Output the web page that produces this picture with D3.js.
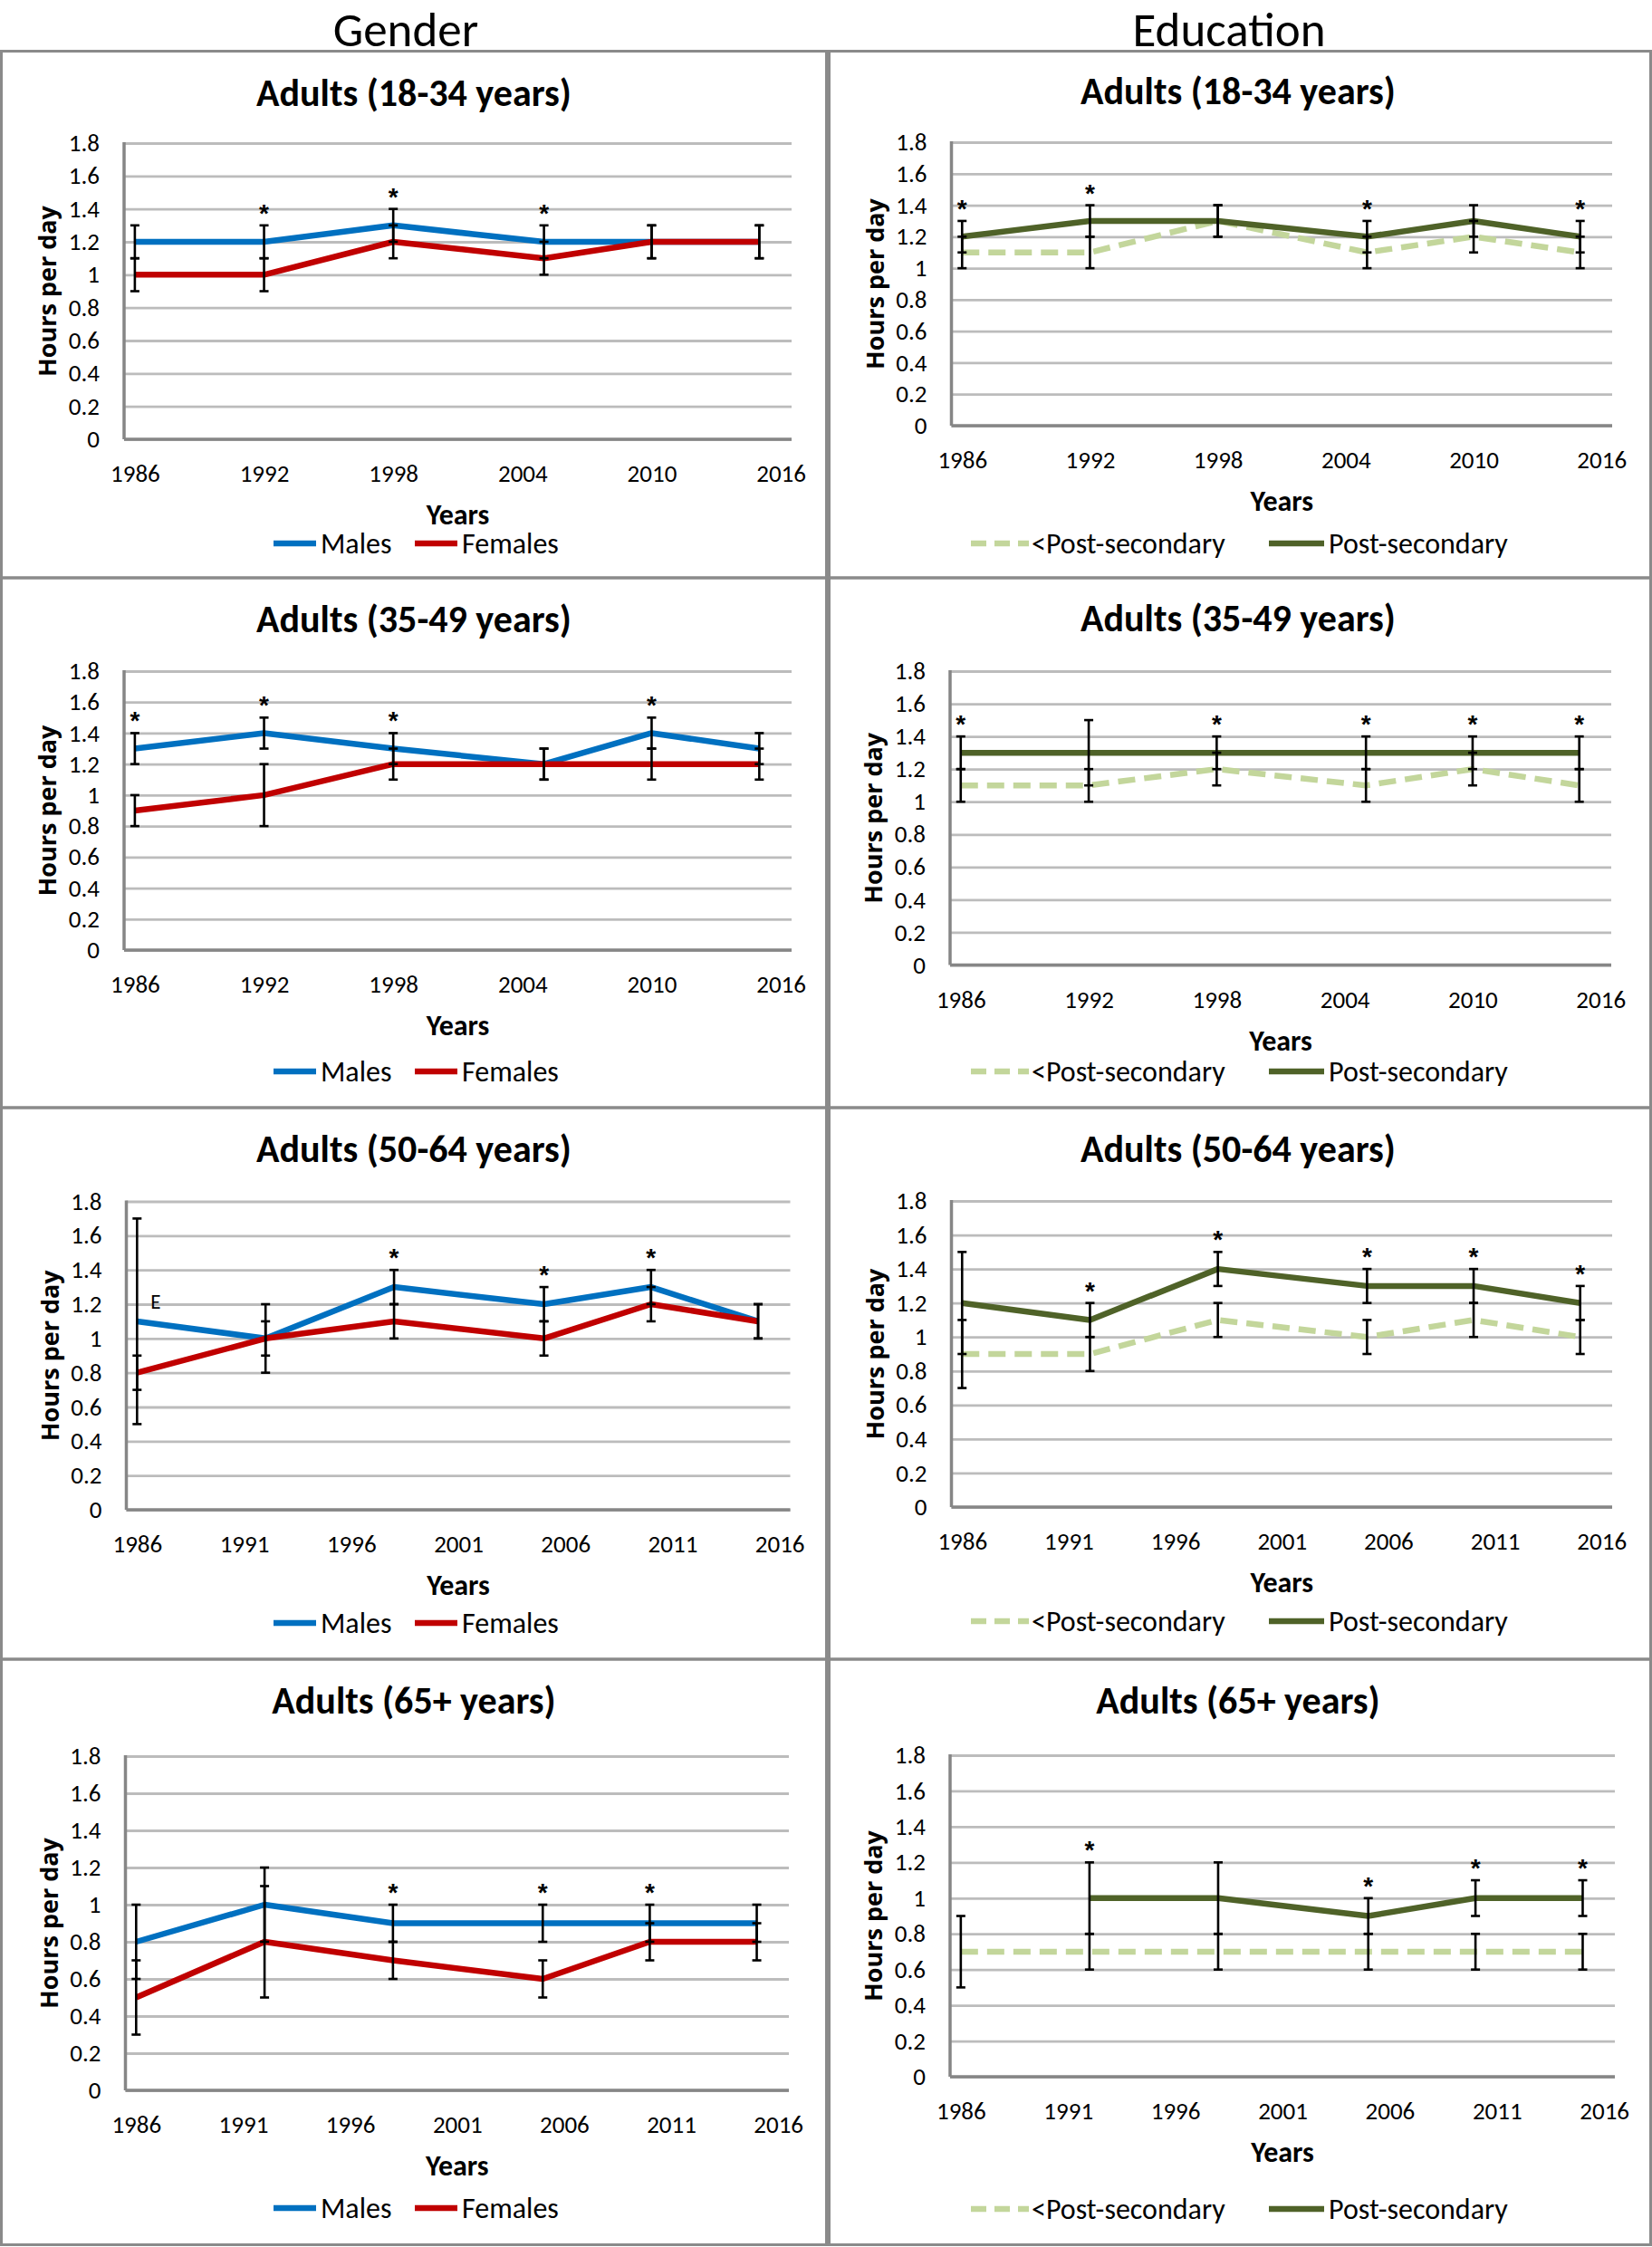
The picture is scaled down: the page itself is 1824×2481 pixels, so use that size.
<!DOCTYPE html>
<html><head><meta charset="utf-8">
<script src="https://cdn.jsdelivr.net/npm/d3@7"></script>
<style>body{margin:0;background:#fff} svg{display:block}</style>
</head><body>
<svg id="chart" width="1824" height="2481"></svg>
<script>
// ---------------- DATA ----------------
const surveyYears = [1986, 1992, 1998, 2005, 2010, 2015];
const yTickValues = [0, 0.2, 0.4, 0.6, 0.8, 1, 1.2, 1.4, 1.6, 1.8];
const xTicksSix = [1986, 1992, 1998, 2004, 2010, 2016];
const xTicksFive = [1986, 1991, 1996, 2001, 2006, 2011, 2016];
const columnTitles = ["Gender", "Education"];
const panelTitles = ["Adults (18-34 years)", "Adults (35-49 years)", "Adults (50-64 years)", "Adults (65+ years)"];
const genderSeries = ["Males", "Females"];
const educationSeries = ["<Post-secondary", "Post-secondary"];

// Gender, 18-34
const males_18_34      = [1.2, 1.2, 1.3, 1.2, 1.2, 1.2];
const males_18_34_lo   = [1.1, 1.1, 1.2, 1.1, 1.1, 1.1];
const males_18_34_hi   = [1.3, 1.3, 1.4, 1.3, 1.3, 1.3];
const females_18_34    = [1.0, 1.0, 1.2, 1.1, 1.2, 1.2];
const females_18_34_lo = [0.9, 0.9, 1.1, 1.0, 1.1, 1.1];
const females_18_34_hi = [1.1, 1.1, 1.3, 1.2, 1.3, 1.3];
const stars_gender_18_34 = [1992, 1998, 2005];

// Gender, 35-49
const males_35_49      = [1.3, 1.4, 1.3, 1.2, 1.4, 1.3];
const males_35_49_lo   = [1.2, 1.3, 1.2, 1.1, 1.3, 1.2];
const males_35_49_hi   = [1.4, 1.5, 1.4, 1.3, 1.5, 1.4];
const females_35_49    = [0.9, 1.0, 1.2, 1.2, 1.2, 1.2];
const females_35_49_lo = [0.8, 0.8, 1.1, 1.1, 1.1, 1.1];
const females_35_49_hi = [1.0, 1.2, 1.3, 1.3, 1.3, 1.3];
const stars_gender_35_49 = [1986, 1992, 1998, 2010];

// Gender, 50-64
const males_50_64      = [1.1, 1.0, 1.3, 1.2, 1.3, 1.1];
const males_50_64_lo   = [0.5, 0.8, 1.2, 1.1, 1.2, 1.0];
const males_50_64_hi   = [1.7, 1.2, 1.4, 1.3, 1.4, 1.2];
const females_50_64    = [0.8, 1.0, 1.1, 1.0, 1.2, 1.1];
const females_50_64_lo = [0.7, 0.9, 1.0, 0.9, 1.1, 1.0];
const females_50_64_hi = [0.9, 1.1, 1.2, 1.1, 1.3, 1.2];
const stars_gender_50_64 = [1998, 2005, 2010];
const cautionFlag_50_64 = {series: "Males", year: 1986, label: "E"};

// Gender, 65+
const males_65      = [0.8, 1.0, 0.9, 0.9, 0.9, 0.9];
const males_65_lo   = [0.6, 0.8, 0.8, 0.8, 0.8, 0.8];
const males_65_hi   = [1.0, 1.2, 1.0, 1.0, 1.0, 1.0];
const females_65    = [0.5, 0.8, 0.7, 0.6, 0.8, 0.8];
const females_65_lo = [0.3, 0.5, 0.6, 0.5, 0.7, 0.7];
const females_65_hi = [0.7, 1.1, 0.8, 0.7, 0.9, 0.9];
const stars_gender_65 = [1998, 2005, 2010];

// Education, 18-34
const lessPS_18_34    = [1.1, 1.1, 1.3, 1.1, 1.2, 1.1];
const lessPS_18_34_lo = [1.0, 1.0, 1.2, 1.0, 1.1, 1.0];
const lessPS_18_34_hi = [1.2, 1.2, 1.4, 1.2, 1.3, 1.2];
const ps_18_34        = [1.2, 1.3, 1.3, 1.2, 1.3, 1.2];
const ps_18_34_lo     = [1.1, 1.2, 1.2, 1.1, 1.2, 1.1];
const ps_18_34_hi     = [1.3, 1.4, 1.4, 1.3, 1.4, 1.3];
const stars_edu_18_34 = [1986, 1992, 2005, 2015];

// Education, 35-49
const lessPS_35_49    = [1.1, 1.1, 1.2, 1.1, 1.2, 1.1];
const lessPS_35_49_lo = [1.0, 1.0, 1.1, 1.0, 1.1, 1.0];
const lessPS_35_49_hi = [1.2, 1.2, 1.3, 1.2, 1.3, 1.2];
const ps_35_49        = [1.3, 1.3, 1.3, 1.3, 1.3, 1.3];
const ps_35_49_lo     = [1.2, 1.1, 1.2, 1.2, 1.2, 1.2];
const ps_35_49_hi     = [1.4, 1.5, 1.4, 1.4, 1.4, 1.4];
const stars_edu_35_49 = [1986, 1998, 2005, 2010, 2015];

// Education, 50-64
const lessPS_50_64    = [0.9, 0.9, 1.1, 1.0, 1.1, 1.0];
const lessPS_50_64_lo = [0.7, 0.8, 1.0, 0.9, 1.0, 0.9];
const lessPS_50_64_hi = [1.1, 1.0, 1.2, 1.1, 1.2, 1.1];
const ps_50_64        = [1.2, 1.1, 1.4, 1.3, 1.3, 1.2];
const ps_50_64_lo     = [0.9, 1.0, 1.3, 1.2, 1.2, 1.1];
const ps_50_64_hi     = [1.5, 1.2, 1.5, 1.4, 1.4, 1.3];
const stars_edu_50_64 = [1992, 1998, 2005, 2010, 2015];

// Education, 65+
const lessPS_65    = [0.7, 0.7, 0.7, 0.7, 0.7, 0.7];
const lessPS_65_lo = [0.5, 0.6, 0.6, 0.6, 0.6, 0.6];
const lessPS_65_hi = [0.9, 0.8, 0.8, 0.8, 0.8, 0.8];
const ps_65        = [null, 1.0, 1.0, 0.9, 1.0, 1.0];
const ps_65_lo     = [null, 0.8, 0.8, 0.8, 0.9, 0.9];
const ps_65_hi     = [null, 1.2, 1.2, 1.0, 1.1, 1.1];
const stars_edu_65 = [1992, 2005, 2010, 2015];

// ---------------- STYLE / LAYOUT ----------------
const NARROW = "Carlito, 'Liberation Sans Narrow', 'Arial Narrow', 'DejaVu Sans Condensed', sans-serif";
const WIDE_BOLD = "'Open Sans', 'DejaVu Sans', sans-serif";
const COLORS = {Males: "#0070C0", Females: "#C00000", "<Post-secondary": "#C3D69B", "Post-secondary": "#4F6228"};
const DASH = {"<Post-secondary": "19,10"};
const LINE_W = 6.5;
const xDomain = [1985.5, 2016.5];

const rowsY = [56.5, 638, 1223, 1832, 2478.5];
const colsX = [[1.5, 912.5], [915.5, 1822.5]];

const panels = [
  {col: 0, row: 0, title: panelTitles[0], kind: "g", xt: xTicksSix, stars: stars_gender_18_34,
   series: [[males_18_34, males_18_34_lo, males_18_34_hi], [females_18_34, females_18_34_lo, females_18_34_hi]],
   plot: {l: 137, r: 874, t: 158, b: 485}, titleY: 102, legendY: 600},
  {col: 0, row: 1, title: panelTitles[1], kind: "g", xt: xTicksSix, stars: stars_gender_35_49,
   series: [[males_35_49, males_35_49_lo, males_35_49_hi], [females_35_49, females_35_49_lo, females_35_49_hi]],
   plot: {l: 137, r: 874, t: 741, b: 1049}, titleY: 683, legendY: 1183},
  {col: 0, row: 2, title: panelTitles[2], kind: "g", xt: xTicksFive, stars: stars_gender_50_64, flag: cautionFlag_50_64,
   series: [[males_50_64, males_50_64_lo, males_50_64_hi], [females_50_64, females_50_64_lo, females_50_64_hi]],
   plot: {l: 139.5, r: 872.5, t: 1326.5, b: 1667}, titleY: 1268, legendY: 1792},
  {col: 0, row: 3, title: panelTitles[3], kind: "g", xt: xTicksFive, stars: stars_gender_65,
   series: [[males_65, males_65_lo, males_65_hi], [females_65, females_65_lo, females_65_hi]],
   plot: {l: 138.5, r: 871, t: 1939, b: 2308}, titleY: 1877, legendY: 2438},
  {col: 1, row: 0, title: panelTitles[0], kind: "e", xt: xTicksSix, stars: stars_edu_18_34,
   series: [[lessPS_18_34, lessPS_18_34_lo, lessPS_18_34_hi], [ps_18_34, ps_18_34_lo, ps_18_34_hi]],
   plot: {l: 1050.5, r: 1780, t: 157, b: 470}, titleY: 100, legendY: 600},
  {col: 1, row: 1, title: panelTitles[1], kind: "e", xt: xTicksSix, stars: stars_edu_35_49,
   series: [[lessPS_35_49, lessPS_35_49_lo, lessPS_35_49_hi], [ps_35_49, ps_35_49_lo, ps_35_49_hi]],
   plot: {l: 1049, r: 1779, t: 741, b: 1065.5}, titleY: 682, legendY: 1183},
  {col: 1, row: 2, title: panelTitles[2], kind: "e", xt: xTicksFive, stars: stars_edu_50_64,
   series: [[lessPS_50_64, lessPS_50_64_lo, lessPS_50_64_hi], [ps_50_64, ps_50_64_lo, ps_50_64_hi]],
   plot: {l: 1050.5, r: 1780, t: 1326, b: 1664}, titleY: 1268, legendY: 1790},
  {col: 1, row: 3, title: panelTitles[3], kind: "e", xt: xTicksFive, stars: stars_edu_65,
   series: [[lessPS_65, lessPS_65_lo, lessPS_65_hi], [ps_65, ps_65_lo, ps_65_hi]],
   plot: {l: 1049, r: 1783, t: 1938, b: 2293}, titleY: 1877, legendY: 2439}
];

const legendPos = {
  g: [{x1: 302, x2: 349, tx: 354}, {x1: 458, x2: 505, tx: 510}],
  e: [{x1: 1072, x2: 1136, tx: 1139}, {x1: 1401, x2: 1462, tx: 1467}]
};

const svg = d3.select("#chart");
svg.append("rect").attr("width", 1824).attr("height", 2481).attr("fill", "#fff");

// column titles
svg.selectAll("text.coltitle").data(columnTitles).join("text")
  .attr("class", "coltitle")
  .attr("x", (d, i) => i === 0 ? 448 : 1357).attr("y", 51)
  .attr("text-anchor", "middle")
  .style("font-family", NARROW).style("font-size", "53px").attr("fill", "#000")
  .text(d => d);

panels.forEach(p => {
  const names = p.kind === "g" ? genderSeries : educationSeries;
  const [bx0, bx1] = colsX[p.col];
  // frame
  svg.append("rect")
    .attr("x", bx0).attr("y", rowsY[p.row])
    .attr("width", bx1 - bx0).attr("height", rowsY[p.row + 1] - rowsY[p.row])
    .attr("fill", "none").attr("stroke", "#8a8a8a").attr("stroke-width", 3);

  const {l, r, t, b} = p.plot;
  const x = d3.scaleLinear().domain(xDomain).range([l, r]);
  const y = d3.scaleLinear().domain([0, 1.8]).range([b, t]);
  const g = svg.append("g");

  // title
  g.append("text").attr("x", p.col === 0 ? 457 : 1367).attr("y", p.titleY)
    .attr("dy", "0.35em").attr("text-anchor", "middle")
    .style("font-family", NARROW).style("font-size", "42px").style("font-weight", "bold")
    .text(p.title);

  // y axis with gridlines
  const ya = g.append("g").attr("transform", `translate(${l},0)`)
    .call(d3.axisLeft(y).tickValues(yTickValues).tickSize(-(r - l)).tickPadding(27).tickFormat(d3.format("~g")));
  ya.select(".domain").remove();
  ya.selectAll(".tick line").attr("stroke", "#bcbcbc").attr("stroke-width", 2.8);
  ya.selectAll(".tick text").style("font-family", NARROW).style("font-size", "27px").attr("fill", "#000");

  // x axis labels
  const xa = g.append("g").attr("transform", `translate(0,${b})`)
    .call(d3.axisBottom(x).tickValues(p.xt).tickSize(0).tickFormat(d3.format("d")));
  xa.select(".domain").remove();
  xa.selectAll(".tick text").attr("y", 38).attr("dy", "0.35em")
    .style("font-family", NARROW).style("font-size", "27px").attr("fill", "#000");

  // axis lines
  g.append("line").attr("x1", l).attr("x2", l).attr("y1", t - 1).attr("y2", b)
    .attr("stroke", "#868686").attr("stroke-width", 3.5);
  g.append("line").attr("x1", l).attr("x2", r).attr("y1", b).attr("y2", b)
    .attr("stroke", "#868686").attr("stroke-width", 3.5);

  // axis titles
  g.append("text").attr("x", (l + r) / 2).attr("y", b + 83).attr("dy", "0.35em")
    .attr("text-anchor", "middle")
    .style("font-family", NARROW).style("font-size", "32px").style("font-weight", "bold")
    .text("Years");
  g.append("text")
    .attr("transform", `translate(${l - 84},${(t + b) / 2}) rotate(-90)`)
    .attr("dy", "0.35em").attr("text-anchor", "middle")
    .style("font-family", WIDE_BOLD).style("font-size", "27px").style("font-weight", "bold")
    .text("Hours per day");

  // series lines
  p.series.forEach((s, si) => {
    const name = names[si];
    const pts = surveyYears.map((yr, i) => ({yr, v: s[0][i]}));
    const line = d3.line().defined(d => d.v != null).x(d => x(d.yr)).y(d => y(d.v));
    g.append("path").datum(pts).attr("d", line)
      .attr("fill", "none").attr("stroke", COLORS[name]).attr("stroke-width", LINE_W)
      .attr("stroke-linejoin", "round")
      .attr("stroke-dasharray", DASH[name] || null);
  });

  // error bars
  p.series.forEach(s => {
    const eb = surveyYears.map((yr, i) => ({yr, lo: s[1][i], hi: s[2][i]})).filter(d => d.lo != null);
    const eg = g.append("g").attr("stroke", "#000").attr("stroke-width", 2.6);
    eg.selectAll("line.v").data(eb).join("line").attr("class", "v")
      .attr("x1", d => x(d.yr)).attr("x2", d => x(d.yr)).attr("y1", d => y(d.lo)).attr("y2", d => y(d.hi));
    eg.selectAll("line.lc").data(eb).join("line").attr("class", "lc")
      .attr("x1", d => x(d.yr) - 5).attr("x2", d => x(d.yr) + 5).attr("y1", d => y(d.lo)).attr("y2", d => y(d.lo));
    eg.selectAll("line.hc").data(eb).join("line").attr("class", "hc")
      .attr("x1", d => x(d.yr) - 5).attr("x2", d => x(d.yr) + 5).attr("y1", d => y(d.hi)).attr("y2", d => y(d.hi));
  });

  // significance stars
  const starData = p.stars.map(yr => {
    const i = surveyYears.indexOf(yr);
    const top = d3.max(p.series, s => s[2][i]);
    return {yr, top};
  });
  g.selectAll("text.star").data(starData).join("text").attr("class", "star")
    .attr("x", d => x(d.yr)).attr("y", d => y(d.top) - 4)
    .attr("text-anchor", "middle")
    .style("font-family", "'Liberation Sans', Arial, sans-serif").style("font-size", "28px").style("font-weight", "bold")
    .text("*");

  // caution flag
  if (p.flag) {
    const si = names.indexOf(p.flag.series);
    const i = surveyYears.indexOf(p.flag.year);
    g.append("text").attr("x", x(p.flag.year) + 15).attr("y", y(p.series[si][0][i]) - 14)
      .style("font-family", NARROW).style("font-size", "23px").text(p.flag.label);
  }

  // legend
  names.forEach((name, si) => {
    const lp = legendPos[p.kind][si];
    g.append("line").attr("x1", lp.x1).attr("x2", lp.x2).attr("y1", p.legendY).attr("y2", p.legendY)
      .attr("stroke", COLORS[name]).attr("stroke-width", LINE_W)
      .attr("stroke-dasharray", DASH[name] ? "17,9" : null);
    g.append("text").attr("x", lp.tx).attr("y", p.legendY).attr("dy", "0.35em")
      .style("font-family", NARROW).style("font-size", "32px").text(name);
  });
});
</script>
</body></html>
